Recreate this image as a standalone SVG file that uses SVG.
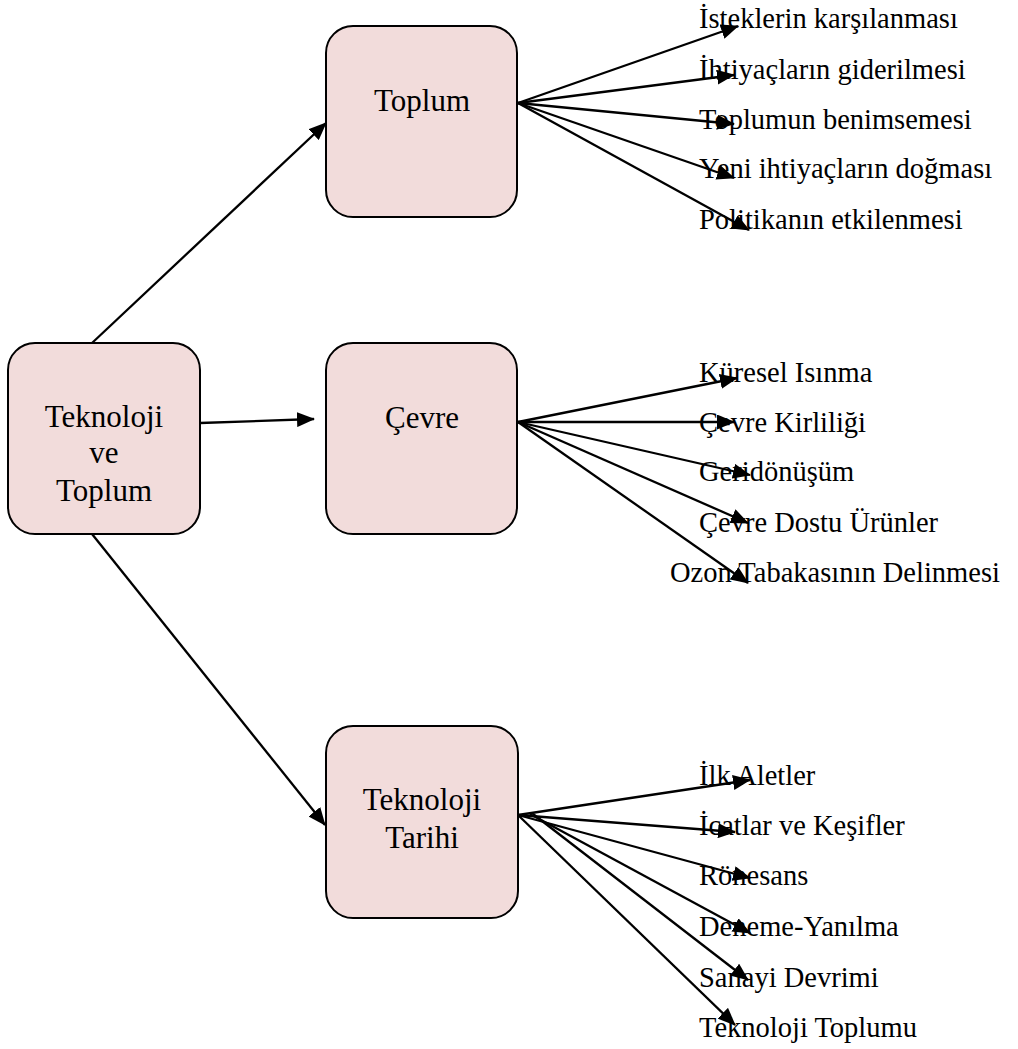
<svg xmlns="http://www.w3.org/2000/svg" width="1018" height="1049" viewBox="0 0 1018 1049">
  <style>
    .box { fill: #f2dcdb; stroke: #000; stroke-width: 2; }
    .nodetext { font-family: "Liberation Serif", "Times New Roman", serif; font-size: 31px; fill: #000; text-anchor: middle; }
    .label { font-family: "Liberation Serif", "Times New Roman", serif; font-size: 28.5px; fill: #000; }
    .edge { stroke: #000; stroke-width: 2.3; fill: none; marker-end: url(#head); }
  </style>
  <defs>
    <marker id="head" markerUnits="userSpaceOnUse" markerWidth="18" markerHeight="15" refX="17" refY="7.5" orient="auto">
      <path d="M0,0 L18,7.5 L0,15 Z" fill="#000"/>
    </marker>
  </defs>
  <rect width="1018" height="1049" fill="#fff"/>

  <!-- main node -->
  <g id="node-teknoloji-ve-toplum">
    <rect class="box" x="8" y="343" width="192" height="191" rx="27"/>
    <text class="nodetext" x="104" y="427">Teknoloji</text>
    <text class="nodetext" x="104" y="463">ve</text>
    <text class="nodetext" x="104" y="501">Toplum</text>
  </g>

  <g id="node-toplum">
    <rect class="box" x="326" y="26" width="191" height="191" rx="27"/>
    <text class="nodetext" x="422" y="111">Toplum</text>
  </g>

  <g id="node-cevre">
    <rect class="box" x="326" y="343" width="191" height="191" rx="27"/>
    <text class="nodetext" x="422" y="428">Çevre</text>
  </g>

  <g id="node-teknoloji-tarihi">
    <rect class="box" x="326" y="726" width="192" height="192" rx="27"/>
    <text class="nodetext" x="422" y="810">Teknoloji</text>
    <text class="nodetext" x="422" y="848">Tarihi</text>
  </g>

  <!-- leaf labels -->
  <g id="labels-toplum">
    <text class="label" x="699" y="28">İsteklerin karşılanması</text>
    <text class="label" x="699" y="79">İhtiyaçların giderilmesi</text>
    <text class="label" x="699" y="129">Toplumun benimsemesi</text>
    <text class="label" x="699" y="178">Yeni ihtiyaçların doğması</text>
    <text class="label" x="699" y="229">Politikanın etkilenmesi</text>
  </g>
  <g id="labels-cevre">
    <text class="label" x="699" y="382">Küresel Isınma</text>
    <text class="label" x="699" y="432">Çevre Kirliliği</text>
    <text class="label" x="699" y="481">Geridönüşüm</text>
    <text class="label" x="699" y="532">Çevre Dostu Ürünler</text>
    <text class="label" x="670" y="582">Ozon Tabakasının Delinmesi</text>
  </g>
  <g id="labels-tarih">
    <text class="label" x="699" y="785">İlk Aletler</text>
    <text class="label" x="699" y="835">İcatlar ve Keşifler</text>
    <text class="label" x="699" y="885">Rönesans</text>
    <text class="label" x="699" y="936">Deneme-Yanılma</text>
    <text class="label" x="699" y="987">Sanayi Devrimi</text>
    <text class="label" x="699" y="1037">Teknoloji Toplumu</text>
  </g>

  <!-- connectors -->
  <g id="connectors">
    <line class="edge" x1="92" y1="343" x2="326" y2="123"/>
    <line class="edge" x1="200" y1="423" x2="314" y2="419"/>
    <line class="edge" x1="92" y1="534" x2="325" y2="825"/>

    <line class="edge" x1="518" y1="103" x2="738" y2="26"/>
    <line class="edge" x1="518" y1="103" x2="734" y2="75"/>
    <line class="edge" x1="518" y1="103" x2="734" y2="124"/>
    <line class="edge" x1="518" y1="103" x2="734" y2="178"/>
    <line class="edge" x1="518" y1="103" x2="749" y2="230"/>

    <line class="edge" x1="518" y1="422" x2="737" y2="378"/>
    <line class="edge" x1="518" y1="422" x2="734" y2="422"/>
    <line class="edge" x1="518" y1="422" x2="750" y2="475"/>
    <line class="edge" x1="518" y1="422" x2="748" y2="523"/>
    <line class="edge" x1="518" y1="422" x2="748" y2="583"/>

    <line class="edge" x1="518" y1="815" x2="750" y2="780"/>
    <line class="edge" x1="518" y1="815" x2="735" y2="832"/>
    <line class="edge" x1="518" y1="815" x2="750" y2="878"/>
    <line class="edge" x1="530" y1="814" x2="750" y2="933"/>
    <line class="edge" x1="533" y1="814" x2="748" y2="980"/>
    <line class="edge" x1="518" y1="815" x2="735" y2="1025"/>
  </g>
</svg>
